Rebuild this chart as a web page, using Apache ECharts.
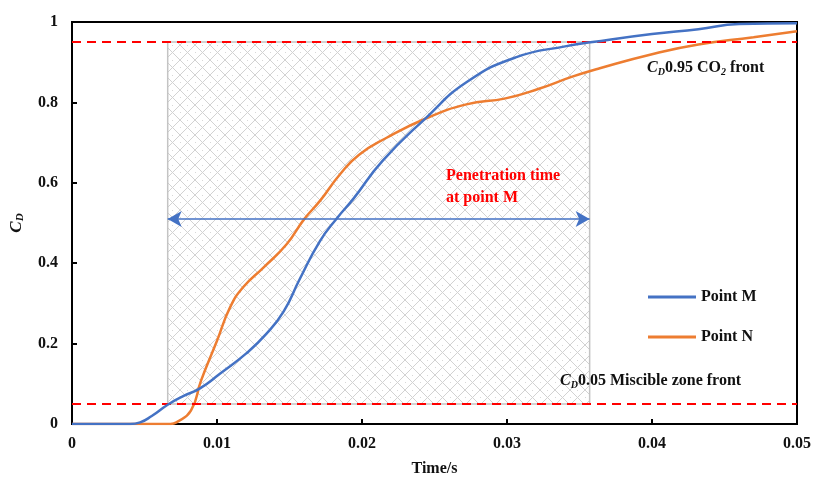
<!DOCTYPE html>
<html>
<head>
<meta charset="utf-8">
<script src="https://cdn.jsdelivr.net/npm/echarts@6/dist/echarts.min.js"></script>
<style>
  html, body { margin: 0; padding: 0; background: #fff; }
  #chart { width: 816px; height: 482px; }
</style>
</head>
<body>
<div id="chart"></div>
<script>
// Point M (blue)
const timeM = [0, 0.004, 0.0047, 0.0055, 0.0066, 0.0077, 0.0088, 0.0102, 0.012, 0.0134, 0.0146, 0.0157, 0.0171, 0.0183, 0.0194, 0.0214, 0.0244, 0.0272, 0.0306, 0.0341, 0.0359, 0.04, 0.0432, 0.046, 0.05];
const cdM   = [0, 0, 0.004, 0.02, 0.048, 0.07, 0.088, 0.125, 0.175, 0.224, 0.28, 0.36, 0.455, 0.513, 0.56, 0.654, 0.761, 0.85, 0.912, 0.94, 0.95, 0.97, 0.982, 0.995, 0.997];
// Point N (orange)
const timeN = [0, 0.0068, 0.0072, 0.0082, 0.0089, 0.01, 0.0109, 0.0118, 0.0132, 0.0148, 0.016, 0.0171, 0.0185, 0.0198, 0.0217, 0.0244, 0.0272, 0.0299, 0.0322, 0.0345, 0.0364, 0.04, 0.0432, 0.047, 0.05];
const cdN   = [0, 0, 0.004, 0.033, 0.108, 0.207, 0.29, 0.34, 0.389, 0.447, 0.509, 0.555, 0.622, 0.67, 0.712, 0.76, 0.795, 0.81, 0.834, 0.864, 0.885, 0.92, 0.944, 0.962, 0.977];

// reference levels and penetration window
const frontLevels = [0.95, 0.05];
const penetration = { start: 0.0066, end: 0.0357, level: 0.51 };

const serif = 'Liberation Serif';

// cross-hatch fill for the penetration window
const makeHatch = () => {
  const s = 15;
  const c = document.createElement('canvas');
  c.width = s; c.height = s;
  const ctx = c.getContext('2d');
  ctx.strokeStyle = '#d2d2d2';
  ctx.lineWidth = 1;
  ctx.beginPath();
  ctx.moveTo(0, 0); ctx.lineTo(s, s);
  ctx.moveTo(s, 0); ctx.lineTo(0, s);
  ctx.stroke();
  ctx.fillStyle = '#d8d8d8';
  ctx.fillRect(7, 0, 1, 1);
  ctx.fillRect(0, 7, 1, 1);
  return c;
};

const chart = echarts.init(document.getElementById('chart'));

const option = {
  animation: false,
  grid: {
    left: 72, right: 19, top: 22, bottom: 58,
    show: true, borderColor: '#000', borderWidth: 2
  },
  legend: {
    orient: 'vertical',
    left: 643, top: 284,
    icon: 'rect',
    itemWidth: 48, itemHeight: 3,
    itemGap: 24,
    textStyle: { fontFamily: serif, fontWeight: 'bold', fontSize: 16, color: '#111' },
    data: ['Point M', 'Point N']
  },
  xAxis: {
    type: 'value', min: 0, max: 0.05, interval: 0.01,
    name: 'Time/s', nameLocation: 'middle', nameGap: 37,
    nameTextStyle: { fontFamily: serif, fontWeight: 'bold', fontSize: 16, color: '#111' },
    axisLine: { lineStyle: { color: '#000', width: 2 } },
    axisTick: { inside: true, length: 5, lineStyle: { color: '#000', width: 2 } },
    axisLabel: { fontFamily: serif, fontWeight: 'bold', fontSize: 16, color: '#111', margin: 12 },
    splitLine: { show: false }
  },
  yAxis: {
    type: 'value', min: 0, max: 1, interval: 0.2,
    name: '{c|C}{d|D}', nameLocation: 'middle', nameGap: 46, nameRotate: 90,
    nameTextStyle: {
      rich: {
        c: { fontFamily: serif, fontWeight: 'bold', fontStyle: 'italic', fontSize: 17, color: '#111' },
        d: { fontFamily: serif, fontWeight: 'bold', fontStyle: 'italic', fontSize: 11, color: '#111', padding: [8, 0, 0, 0] }
      }
    },
    axisLine: { show: true, lineStyle: { color: '#000', width: 2 } },
    axisTick: { show: true, inside: true, length: 5, lineStyle: { color: '#000', width: 2 } },
    axisLabel: { fontFamily: serif, fontWeight: 'bold', fontSize: 16, color: '#111', margin: 14 },
    splitLine: { show: false }
  },
  series: [
    {
      name: 'window',
      type: 'line',
      data: [],
      z: 1,
      markArea: {
        silent: true,
        itemStyle: {
          color: { image: makeHatch(), repeat: 'repeat' },
          borderColor: '#c4c4c4', borderWidth: 1.5
        },
        data: [[
          { coord: [penetration.start, frontLevels[1]] },
          { coord: [penetration.end, frontLevels[0]] }
        ]]
      },
      markLine: {
        silent: true,
        symbol: 'none',
        label: { show: false },
        lineStyle: { color: '#ff0000', type: [9, 6], width: 2 },
        data: frontLevels.map(v => ({ yAxis: v }))
      }
    },
    {
      name: 'arrow',
      type: 'line',
      data: [],
      z: 3,
      markLine: {
        silent: true,
        symbol: ['arrow', 'arrow'],
        symbolSize: [12, 14],
        label: { show: false },
        lineStyle: { color: '#4472c4', type: 'solid', width: 1.5 },
        data: [[
          { coord: [penetration.start, penetration.level] },
          { coord: [penetration.end, penetration.level] }
        ]]
      }
    },
    {
      name: 'Point N',
      type: 'line',
      smooth: 0.5,
      showSymbol: false,
      z: 4,
      color: '#ed7d31',
      lineStyle: { width: 2.5 },
      data: timeN.map((t, i) => [t, cdN[i]])
    },
    {
      name: 'Point M',
      type: 'line',
      smooth: 0.5,
      showSymbol: false,
      z: 5,
      color: '#4472c4',
      lineStyle: { width: 2.5 },
      data: timeM.map((t, i) => [t, cdM[i]])
    }
  ],
  graphic: [
    {
      type: 'text', left: 446, top: 165, z: 10,
      style: {
        text: 'Penetration time\nat point M',
        fill: '#ff0000', font: 'bold 16px "Liberation Serif"', lineHeight: 22
      }
    },
    {
      type: 'text', left: 647, top: 60, z: 10,
      style: {
        text: '{c|C}{d|D}{t|0.95 CO}{d|2}{t| front}',
        rich: {
          c: { font: 'italic bold 16px "Liberation Serif"', fill: '#111' },
          d: { font: 'italic bold 10px "Liberation Serif"', fill: '#111', padding: [8, 0, 0, 0] },
          t: { font: 'bold 16px "Liberation Serif"', fill: '#111' }
        }
      }
    },
    {
      type: 'text', left: 560, top: 373, z: 10,
      style: {
        text: '{c|C}{d|D}{t|0.05 Miscible zone front}',
        rich: {
          c: { font: 'italic bold 16px "Liberation Serif"', fill: '#111' },
          d: { font: 'italic bold 10px "Liberation Serif"', fill: '#111', padding: [8, 0, 0, 0] },
          t: { font: 'bold 16px "Liberation Serif"', fill: '#111' }
        }
      }
    }
  ]
};

chart.setOption(option);
</script>
</body>
</html>
